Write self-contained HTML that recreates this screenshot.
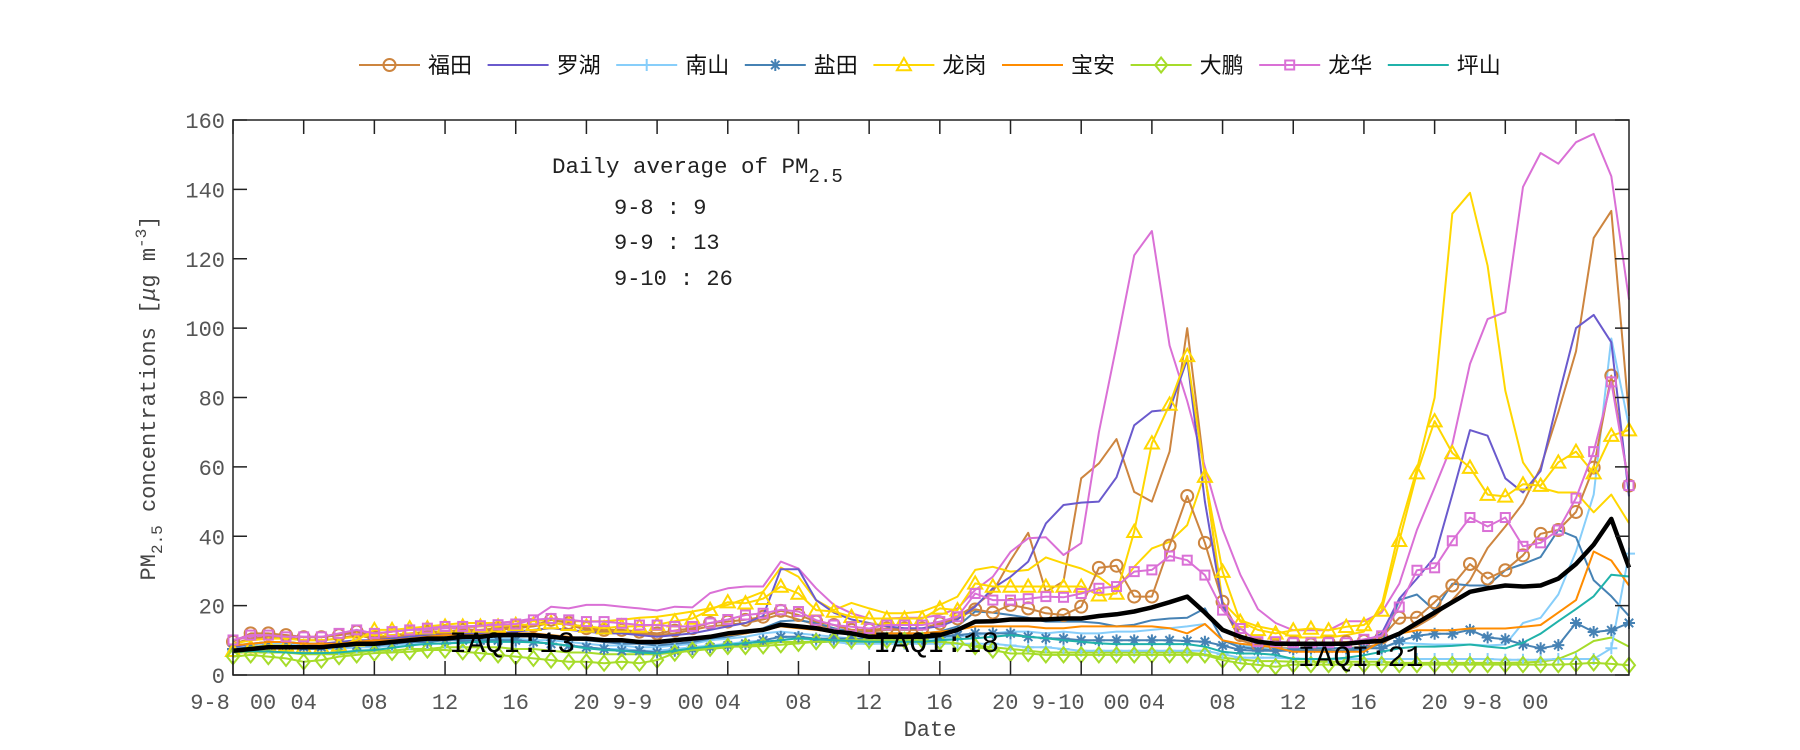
<!DOCTYPE html>
<html><head><meta charset="utf-8"><style>
html,body{margin:0;padding:0;background:#fff;}
svg{display:block;font-family:"Liberation Mono","Noto Sans CJK SC",monospace;}
</style></head><body>
<svg id="chart" width="1800" height="750" viewBox="0 0 1800 750" xmlns="http://www.w3.org/2000/svg">
<rect x="0" y="0" width="1800" height="750" fill="#fff"/>
<g id="plot"></g>
<g id="axes"></g>
<text x="552" y="173" font-size="22.5" fill="#222">Daily average of PM<tspan font-size="19" dy="9">2.5</tspan></text>
<text x="614" y="214" font-size="22" fill="#222">9-8 : 9</text>
<text x="614" y="249" font-size="22" fill="#222">9-9 : 13</text>
<text x="614" y="285" font-size="22" fill="#222">9-10 : 26</text>
<text transform="translate(155,398) rotate(-90)" text-anchor="middle" font-size="22" fill="#444">PM<tspan font-size="16" dy="7">2.5</tspan><tspan dy="-7"> concentrations [</tspan><tspan font-style="italic">μ</tspan>g m<tspan font-size="16" dy="-9">-3</tspan><tspan dy="9">]</tspan></text>
<text x="930" y="736" text-anchor="middle" font-size="22" fill="#444">Date</text>
<g id="legend"></g>
<g id="iaqi"></g>
</svg>
<script>
const hours = Array.from({length:80},(_,i)=>i);
const yTicks = [0,20,40,60,80,100,120,140,160];
const xTickHours = [0,4,8,12,16,20,24,28,32,36,40,44,48,52,56,60,64,68,72,76];
const xLabelText = ["9-8","00","04","08","12","16","20","9-9","00","04","08","12","16","20","9-10","00","04","08","12","16","20","9-8","00"];
const xLabelHour = [-1.3,1.7,4,8,12,16,20,22.6,25.9,28,32,36,40,43.7,46.7,50,52,56,60,64,68,70.7,73.7];
const stationNames = ["福田","罗湖","南山","盐田","龙岗","宝安","大鹏","龙华","坪山"];
const stationColors = ["#CD853F","#6A5ACD","#87CEFA","#4682B4","#FFD700","#FF8C00","#A6DC2A","#DA70D6","#20B2AA"];
const stationMarkers = ["circle","none","plus","star","triangle","none","diamond","square","none"];
const iaqiText = ["IAQI:13","IAQI:18","IAQI:21"];
const iaqiHour = [15.8,39.8,63.8];
const iaqiValue = [9.5,9.5,5.5];

const futianA = [9.6,12,12,11.5,10.9,10.9,11.5,12.5,10.9,11.5,12,12.5,12.5,13,13,13.5,14,14.2,15.9,15,13.5,13,13,12.5,12,12.8,13.5,15,15.4,15.9,16.8,18.5,
17.3,15.4,14.4,13,13,13.4,13.4,13.4,14.9,16.3,18.9,18,20.2,19.2,17.8,17.3,19.7,30.9,31.5,22.6,22.6,37.3,51.6,38.1,21.1,11.5,8.8,8.4,
9.3,8.8,9.3,9.5,9.8,10.8,16.5,16.5,21,25.8,32,27.8,30.2,34.5,40.7,41.8,47,59.8,86.3,54.6];
const futianB = [9,10.5,11,11,10,10,10.5,11.5,10.5,11,11.5,12,12,12.5,12.5,13,13.5,14,15,14.5,13,12.5,12.5,12,11.5,12,13,14,14.5,15,16,17.5,
16,14.5,13.5,12.5,12.5,13,13,13,14.5,17,20,24,33,41,24,27,56.7,61,68,52.8,50,64.4,100,58,20,10,8.5,8,
7.7,7.5,7.5,7.8,8,9,11.9,14,17,21.6,27.3,36.6,42.8,49.5,59.8,75.8,93.3,126,133.8,74.7];
const luohu = [8,9,9.5,9.5,9,9,9.5,10,10,10.5,11,11.5,11.5,12,12,12,12.5,13,13.5,13,12.5,12,12,11.5,11,11.5,12,13,14,15,17,30.5,
30.5,21.6,18,16,15,14,13.5,13.5,14,16,19.7,25,28.3,32.7,43.7,49,49.7,50,57,72,76,76.5,91,50,20,11,9,8.8,
8.8,8.5,8.5,8.8,9.5,11.9,22,27.8,34,52,70.6,69,56.7,52.6,58.8,80,100,103.8,95.9,51.5];
const nanshanA = [7,7.5,8,8,7.5,7.5,7.5,8,8,8.5,9,9,9,9.5,9.5,9.5,9.5,9.5,9,8.5,8,7.5,7.5,7,7,7.5,8,8.5,9,9.5,10,11,
10.5,10,9.5,9,9,9,9,9,9,9,9,9,8.5,8,8,7.5,7,7,7,7,7,7,7,7,6,5,5,5,
4.8,4.6,4.6,4.6,4.6,4.6,4.6,4.6,4.6,4.6,4.6,4.6,4.4,4.4,4.4,4.6,4.6,4.6,7.7,35];
const nanshanB = [8,8.5,9,9,8.5,8.5,8.5,9,9,9.5,10,10,10.5,10.5,10.5,10.5,10.5,10,10,9.5,9,8.5,8.5,8,8,8.5,9,10,10.5,11,12,12.5,
12,11.5,11,10.5,10.5,10.5,10.5,10.5,10.5,11,11.5,12,12.5,12.5,12,12.5,12,12,12.5,12.5,13,13.5,14,14.7,10,8.5,8,7.5,
7.7,7.7,7.7,7.7,7.7,8,9.3,9,8.8,8.8,8.8,8.5,8.8,15,16.5,23.2,35.6,52,97,71.6];
const yantianA = [7.5,8,8.5,8.5,8,8,8,8.5,8.5,9,9.5,9.5,10,10,10,10,10,9.5,9,8.5,8,7.5,7,7,6.5,7,7.5,8,8.5,9,10,11,
11,10.5,10.5,10.5,10.5,10.5,10.5,10.5,11,11.5,12,12,12,11,10.6,10.5,10,10,10,10,10,10,9.8,9.6,8.5,7.2,7,7,
7.5,7.7,7.7,7.7,7.7,7.7,9.8,11.3,11.9,11.9,13,10.8,10.3,8.8,7.7,8.6,15,12.4,12.9,15];
const yantianB = [8.5,9,9.5,9.5,9,9,9,9.5,9.5,10,10.5,11,11.5,11.5,11.5,12,12,11.5,11,10.5,10,9.5,9,9,8.5,9,9.5,10.5,11,12,13.5,15.5,
15.8,15,13.5,12.5,12,12,12,12,12.5,14,18.3,18,17.3,16.5,15.4,15.4,15.4,15,14,14.5,15.8,16.3,16.5,19.2,10,8,7.5,7,
7,7,7,7,7.5,9,21.6,23.2,18.6,26.3,25.8,25.8,30.2,32,34,41.8,39.7,27.3,22.7,17];
const longgangA = [7,8,8.5,8.5,8,8,8.5,10,13,13,13.5,13.5,14,14,14,14,14.5,14.5,15,14.5,14,13.5,14,14,14.5,15.5,16.3,18.8,21,20.7,22,25.5,
23.5,18.7,18.3,16.8,16.3,16.3,16.3,16.3,19.2,18.7,26.4,25.5,25.5,25.5,25.5,25.5,25.5,23,23.5,41.3,66.8,78,92,57.2,29.8,15.4,13,12,
12.9,13.4,12.9,13.9,14.4,18.6,38.7,58.2,73.2,64,59.8,52,51.5,55,54.6,61.3,64.4,58.2,69,70.6];
const longgangB = [9,10,10.5,10.5,10,10,10.5,11,11.5,12.5,13.5,14,14.5,15,15,15,15.5,15.5,16,15.5,15.5,15.5,15.9,16.5,16.8,17.5,18.3,19.2,20.2,22,24,31,
28.3,21.6,18.7,20.8,19.2,17.8,17.8,18.3,20.2,22.6,30.3,31.2,29.8,30.3,33.9,32.2,30.7,28.3,24.5,31.2,36.5,38.4,43.2,58,21,15.8,14,13,
10.8,10.8,10.8,11.5,12.5,20,41.8,59.3,79.9,133,139,118,82,61.3,54,52.6,52.6,46.9,52,43.8];
const baoan = [8.5,9,9.5,9.5,9,9,9,9.5,10,10,10.5,11,11.5,11.5,11.5,12,12,12,11.5,11,10.5,10,10,9.5,9.5,10,10.5,11,11.5,12,13,14,
13.5,13,12.5,12,12,12,12,12,12.5,13,14,14,14,14,13.5,13.5,14,14,14,14,14,13.5,12,14.7,10,9,8.5,8,
6.7,6.7,6.7,6.7,6.7,9.8,11.9,12.9,12.9,12.9,13.4,13.4,13.4,13.9,14.4,18,21.6,35.6,33,25.8];
const dapengA = [5.3,5.8,5.3,4.8,3.8,4.3,5.3,5.8,6.3,6.5,6.7,7.2,7.2,6.7,6.3,5.8,5.3,4.8,4.3,3.8,3.8,3.4,3.8,3.4,4.3,6.3,7.2,7.7,8.2,8.2,8.4,8.7,
9.1,9.6,10,10,10,10,10,10,9.6,9.1,8.2,7.2,6.2,6.2,5.8,5.8,5.8,5.8,5.8,5.8,5.8,5.8,5.8,5.8,4.3,3.4,2.9,2.4,
3,3,3,3,3,3,3,3,3,3,3,3,3,3,3,3,3.2,3.5,3.2,2.8];
const dapengB = [6.5,6.5,6.5,6.5,6,6,6,6.5,7,7,7.5,7.5,8,8,8,8,7.5,7.5,7,6.5,6.5,6,6,6,6,6.5,7,7.5,8,8.5,9,9.5,
9.5,9.5,9.5,9.5,9.5,9.5,9.5,9.5,9.5,9,8.5,8,7.5,7,6.5,6.5,6.5,6.5,6.5,6.5,6.5,6.5,6.5,6,5,4.5,4,4,
3.8,3.8,3.8,3.8,3.8,3.8,3.5,3.5,3.5,3.5,3.5,3.5,3.5,3.6,3.8,4.6,6.7,9.8,10.8,8.2];
const longhuaA = [10.1,11.5,11.5,11,11,11,12,13,12,12.5,13,13.5,14,14,14.2,14.5,14.7,15.9,16.3,15.9,15.4,15.4,14.9,14.4,14.4,14,14,15,16,17.3,17.8,18.8,
18.3,15.8,14.4,13.9,13.4,14.4,14.4,14.4,15.4,16.8,23.5,21.6,21.6,22,22.6,22.4,23.5,25,25.5,29.8,30.3,34.3,33.1,28.8,18.7,13.4,9.6,9.6,
9.3,9.3,9.3,9.3,10.3,11.3,19.6,30.2,30.9,38.7,45.4,42.8,45.4,37.1,38.1,41.8,51,64.4,84.5,54.6];
const longhuaB = [10,11,11.5,11.5,11,11,11.5,12,12,12.5,13,13,13.5,13.5,14,15,15.5,16.3,19.7,19.2,20.2,20.2,19.7,19.2,18.6,19.7,19.5,23.6,25,25.5,25.5,32.7,
30.7,25,20.2,17.8,16.3,16.3,16.5,16.5,17.3,19.2,24.5,28.3,35.5,39.4,39.7,34.6,38,70,95,121,128,95,79,60,42,29,19,15,
12.9,12.9,12.9,15.5,15.5,18,26.3,41.8,54,66.5,89.7,102.6,104.6,140.7,150.5,147.4,153.6,156,143.8,108.2];
const pingshan = [6.7,6.8,6.8,6.5,6.3,6.3,6.5,7,7.2,7.8,8.5,9,9.1,9.3,9.6,9.6,9.6,9.4,9.1,8.4,7.7,7.2,7,6.5,6.2,7,7.7,8.2,8.7,9.2,9.6,10,
10.6,10.3,10,9.8,9.6,9.6,9.6,9.6,10,10.3,10.6,11,11.5,11,10.6,10,9.6,9.1,8.9,8.9,8.9,8.9,8.9,8.2,6.7,6.2,6.2,5.8,
4.6,4.6,4.6,5,5.7,6.7,7.7,8.2,8.2,8.4,8.8,8.2,7.7,9.3,11.9,15.5,19,22.7,28.9,28.4];
const average = [7,7.5,8,8,8,8,8.5,9,9,9.5,10,10.5,10.5,11,11,11.5,11.5,11.5,11,10.5,10.5,10,10,9.5,9.5,10,10.5,11,12,12.5,13,14.5,
14,13.5,12.5,12,11,11,11,11,11.5,13,15.4,15.5,16,16,16,16.3,16.3,17,17.5,18.3,19.5,21,22.6,18,13,11,9.6,9,
9,9,9,9,9.5,9.8,11.9,15,18,21,24,25,25.8,25.5,25.8,27.8,32,37.6,45,31];

const X0=233,X1=1629,Y0=675,Y1=120,HMAX=79,VMAX=160;
const xs=h=>X0+(h/HMAX)*(X1-X0);
const ys=v=>Y0-(v/VMAX)*(Y0-Y1);
const NS="http://www.w3.org/2000/svg";
function mk(tag,attrs,parent){const e=document.createElementNS(NS,tag);for(const k in attrs)e.setAttribute(k,attrs[k]);parent.appendChild(e);return e;}
const plot=document.getElementById('plot');
const axes=document.getElementById('axes');

function markerShape(type,cx,cy,color,parent,s){
  s=s||1;
  let e=null;
  if(type==="circle"){e=mk('circle',{cx:cx,cy:cy,r:6*s,fill:'none',stroke:color,'stroke-width':2},parent);}
  else if(type==="triangle"){const r=7*s;e=mk('polygon',{points:`${cx},${cy-r} ${cx-r},${cy+r*0.75} ${cx+r},${cy+r*0.75}`,fill:'none',stroke:color,'stroke-width':2},parent);}
  else if(type==="square"){const r=4.5*s;e=mk('rect',{x:cx-r,y:cy-r,width:2*r,height:2*r,fill:'none',stroke:color,'stroke-width':2},parent);}
  else if(type==="diamond"){const a=6*s,b=7.5*s;e=mk('polygon',{points:`${cx},${cy-b} ${cx+a},${cy} ${cx},${cy+b} ${cx-a},${cy}`,fill:'none',stroke:color,'stroke-width':2},parent);}
  else if(type==="plus"){const r=6*s;e=mk('path',{d:`M${cx-r},${cy}H${cx+r}M${cx},${cy-r}V${cy+r}`,stroke:color,'stroke-width':2,fill:'none'},parent);}
  else if(type==="star"){const r=6*s,d=r*0.7;e=mk('path',{d:`M${cx-r},${cy}H${cx+r}M${cx},${cy-r}V${cy+r}M${cx-d},${cy-d}L${cx+d},${cy+d}M${cx-d},${cy+d}L${cx+d},${cy-d}`,stroke:color,'stroke-width':2,fill:'none'},parent);}
  return e;
}

function drawSeries(name,vals,color,marker,width){
  const g=mk('g',{},plot);
  
  
  const pts=vals.map((v,i)=>xs(hours[i]).toFixed(1)+','+ys(v).toFixed(1)).join(' ');
  const pl=mk('polyline',{points:pts,fill:'none',stroke:color,'stroke-width':width,'stroke-linejoin':'round'},g);
  
  
  if(marker!=="none"){
    vals.forEach((v,i)=>{
      const m=markerShape(marker,xs(hours[i]),ys(v),color,g);
      
      
    });
  }
}

drawSeries('futian-plain-series',futianB,stationColors[0],'none',2);
drawSeries('nanshan-plain-series',nanshanB,stationColors[2],'none',2);
drawSeries('yantian-plain-series',yantianB,stationColors[3],'none',2);
drawSeries('longgang-plain-series',longgangB,stationColors[4],'none',2);
drawSeries('dapeng-plain-series',dapengB,stationColors[6],'none',2);
drawSeries('longhua-plain-series',longhuaB,stationColors[7],'none',2);
drawSeries('futian-series',futianA,stationColors[0],stationMarkers[0],2);
drawSeries('luohu-series',luohu,stationColors[1],stationMarkers[1],2);
drawSeries('nanshan-series',nanshanA,stationColors[2],stationMarkers[2],2);
drawSeries('yantian-series',yantianA,stationColors[3],stationMarkers[3],2);
drawSeries('longgang-series',longgangA,stationColors[4],stationMarkers[4],2);
drawSeries('baoan-series',baoan,stationColors[5],stationMarkers[5],2);
drawSeries('dapeng-series',dapengA,stationColors[6],stationMarkers[6],2);
drawSeries('longhua-series',longhuaA,stationColors[7],stationMarkers[7],2);
drawSeries('pingshan-series',pingshan,stationColors[8],stationMarkers[8],2);
drawSeries('average-series',average,'#000','none',4.5);

const box=mk('rect',{x:X0,y:Y1,width:X1-X0,height:Y0-Y1,fill:'none',stroke:'#222','stroke-width':1.5},axes);


yTicks.forEach(v=>{
  const y=ys(v);
  const t=mk('path',{d:`M${X0},${y}h14M${X1},${y}h-14`,stroke:'#222','stroke-width':1.5},axes);
  
  
  const l=mk('text',{x:225,y:y+8,'text-anchor':'end','font-size':22,fill:'#555'},axes);
  l.textContent=String(v);
  
  
});
xTickHours.forEach(h=>{
  const x=xs(h);
  const t=mk('path',{d:`M${x},${Y0}v-14M${x},${Y1}v14`,stroke:'#222','stroke-width':1.5},axes);
  
  
});
xLabelText.forEach((s,i)=>{
  const l=mk('text',{x:xs(xLabelHour[i]),y:709,'text-anchor':'middle','font-size':22,fill:'#555'},axes);
  l.textContent=s;
  
  
});

const iq=document.getElementById('iaqi');
iaqiText.forEach((s,i)=>{
  const l=mk('text',{x:xs(iaqiHour[i]),y:ys(iaqiValue[i])+10,'text-anchor':'middle','font-size':30,fill:'#000','font-family':'Liberation Mono, monospace'},iq);
  l.textContent=s;
  
  
});

const lg=document.getElementById('legend');
stationNames.forEach((n,i)=>{
  const x=359+i*128.6, y=65;
  const g=mk('g',{},lg);
  
  
  mk('line',{x1:x,y1:y,x2:x+61,y2:y,stroke:stationColors[i],'stroke-width':2},g);
  if(stationMarkers[i]!=="none") markerShape(stationMarkers[i],x+30.5,y,stationColors[i],g,1);
  const t=mk('text',{x:x+69,y:y+8,'font-size':22,fill:'#111','font-family':'Liberation Sans, Noto Sans CJK SC, sans-serif'},g);
  t.textContent=n;
});
</script>
</body></html>
